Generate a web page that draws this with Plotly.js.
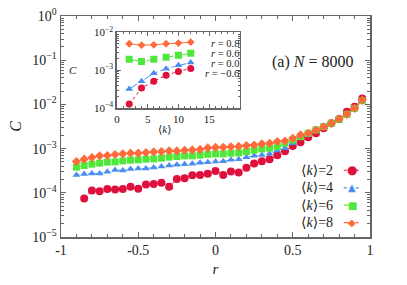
<!DOCTYPE html>
<html><head><meta charset="utf-8">
<script src="https://cdn.plot.ly/plotly-3.0.1.min.js"></script>
<style>html,body{margin:0;padding:0;background:#fff}#c{width:407px;height:285px}</style>
</head><body><div id="c"></div>
<script>
// main panel: C vs r, N = 8000
const rAll = [-0.9,-0.85,-0.8,-0.75,-0.7,-0.65,-0.6,-0.55,-0.5,-0.45,-0.4,-0.35,-0.3,-0.25,-0.2,-0.15,-0.1,-0.05,0,0.05,0.1,0.15,0.2,0.25,0.3,0.35,0.4,0.45,0.5,0.55,0.6,0.65,0.7,0.75,0.8,0.85,0.9,0.95];
const rK2 = rAll.slice(1);
const C_k2 = [7.4e-5,1.13e-4,1.08e-4,1.22e-4,1.19e-4,1.22e-4,1.37e-4,1.24e-4,1.55e-4,1.58e-4,1.69e-4,1.37e-4,2.05e-4,2.13e-4,2.49e-4,2.52e-4,2.69e-4,3.1e-4,2.53e-4,3.03e-4,2.88e-4,3.67e-4,4.59e-4,5.15e-4,5.71e-4,7.03e-4,8.73e-4,1.15e-3,1.39e-3,1.81e-3,2.22e-3,2.88e-3,3.73e-3,4.67e-3,6.81e-3,8.83e-3,1.36e-2];
const C_k4 = [2.52e-4,2.65e-4,2.73e-4,2.73e-4,2.99e-4,3.26e-4,3.2e-4,3.44e-4,3.55e-4,3.55e-4,3.73e-4,3.94e-4,4.14e-4,4.3e-4,4.41e-4,4.52e-4,4.76e-4,4.94e-4,5.09e-4,5.15e-4,5.56e-4,5.77e-4,6.4e-4,6.85e-4,7.21e-4,7.6e-4,9.02e-4,1.02e-3,1.32e-3,1.71e-3,2.04e-3,2.5e-3,3.08e-3,3.7e-3,4.59e-3,6.05e-3,8.13e-3,1.25e-2];
const C_k6 = [3.81e-4,4.14e-4,4.45e-4,4.69e-4,4.94e-4,5.01e-4,5.28e-4,5.48e-4,5.56e-4,5.77e-4,5.86e-4,6.08e-4,6.4e-4,6.61e-4,6.85e-4,6.85e-4,7.1e-4,7.4e-4,7.6e-4,7.6e-4,7.88e-4,8.0e-4,8.56e-4,9.2e-4,9.84e-4,1.02e-3,1.11e-3,1.32e-3,1.57e-3,1.86e-3,2.22e-3,2.64e-3,3.13e-3,3.73e-3,4.59e-3,5.95e-3,8.13e-3,1.21e-2];
const C_k8 = [5.09e-4,5.77e-4,6.27e-4,6.85e-4,6.96e-4,7.33e-4,7.6e-4,7.88e-4,7.88e-4,8.13e-4,8.43e-4,8.56e-4,8.87e-4,8.87e-4,9.2e-4,9.35e-4,9.59e-4,1.04e-3,1.065e-3,1.076e-3,1.10e-3,1.12e-3,1.17e-3,1.21e-3,1.28e-3,1.32e-3,1.45e-3,1.49e-3,1.71e-3,2.04e-3,2.22e-3,2.64e-3,3.13e-3,3.73e-3,4.67e-3,5.95e-3,8.13e-3,1.25e-2];
// inset: C vs <k>
const kVals = [2,4,6,8,10,12];
const Cin_r08 = [5.0e-3,4.6e-3,4.7e-3,5.0e-3,5.2e-3,5.5e-3];
const Cin_r06 = [1.94e-3,1.7e-3,1.94e-3,2.2e-3,2.5e-3,2.8e-3];
const Cin_r00 = [3.2e-4,5.1e-4,8.3e-4,1.1e-3,1.35e-3,1.6e-3];
const Cin_rm06 = [1.28e-4,3.4e-4,5.1e-4,7.4e-4,9.3e-4,1.12e-3];
const legendNames = ['⟨<i>k</i>⟩=2','⟨<i>k</i>⟩=4','⟨<i>k</i>⟩=6','⟨<i>k</i>⟩=8'];
const insetNames = ['<i>r</i> = 0.8','<i>r</i> = 0.6','<i>r</i> = 0.0','<i>r</i> = −0.6'];
const yTickVals = [1,0.1,0.01,0.001,0.0001,0.00001];
const yTickText = ['10<sup>0</sup>','10<sup>−1</sup>','10<sup>−2</sup>','10<sup>−3</sup>','10<sup>−4</sup>','10<sup>−5</sup>'];
const xTickVals = [-1,-0.5,0,0.5,1];
const xTickText = ['-1','-0.5','0','0.5','1'];

function logMinor(lo,hi){const v=[];for(let e=lo;e<hi;e++){for(let m=2;m<=9;m++){v.push(m*Math.pow(10,e));}}return v;}

const RED='#e0103c', BLUE='#4a8ff0', GREEN='#4fe83a', ORANGE='#ff6a3a';
const F='Liberation Serif, DejaVu Serif, serif';
const AX='#666';

function tr(x,y,c,sym,sz,dash,xa,ya){
  return {x:x,y:y,type:'scatter',mode:'lines+markers',xaxis:xa,yaxis:ya,showlegend:false,
    line:{color:c,width:1,dash:dash},marker:{color:c,symbol:sym,size:sz}};
}
const data=[
  tr(rK2,C_k2,RED,'circle',8,'dot','x','y'),
  tr(rAll,C_k4,BLUE,'triangle-up',7,'dot','x','y'),
  tr(rAll,C_k6,GREEN,'square',7,'dash','x','y'),
  tr(rAll,C_k8,ORANGE,'diamond',7,'dashdot','x','y'),
  tr(kVals,Cin_rm06,RED,'circle',7,'dot','x2','y2'),
  tr(kVals,Cin_r00,BLUE,'triangle-up',7,'dashdot','x2','y2'),
  tr(kVals,Cin_r06,GREEN,'square',7,'dash','x2','y2'),
  tr(kVals,Cin_r08,ORANGE,'diamond',6,'solid','x2','y2')
];

const colors=[RED,BLUE,GREEN,ORANGE];
const glyphs=['●','▲','■','◆'];
const dashes=['dot','dot','dash','dashdot'];
const legY=[0.302,0.222,0.144,0.065];
const ann=[
  {text:'(a) <i>N</i> = 8000',xref:'paper',yref:'paper',x:0.95,y:0.79,xanchor:'right',yanchor:'middle',showarrow:false,font:{family:F,size:16,color:'#222'}},
];
const shapes=[];
for(let i=0;i<4;i++){
  ann.push({text:legendNames[i],xref:'paper',yref:'paper',x:0.888,y:legY[i],xanchor:'right',yanchor:'middle',showarrow:false,font:{family:F,size:14,color:'#222'}});
  ann.push({text:glyphs[i],xref:'paper',yref:'paper',x:0.943,y:legY[i],xanchor:'center',yanchor:'middle',showarrow:false,font:{family:'DejaVu Sans',size:i==0?12:10,color:colors[i]}});
  shapes.push({type:'line',xref:'paper',yref:'paper',x0:0.915,x1:0.97,y0:legY[i],y1:legY[i],line:{color:colors[i],width:1.2,dash:dashes[i]}});
}
const inY=[0.874,0.83,0.786,0.742];
for(let i=0;i<4;i++){
  ann.push({text:insetNames[i],xref:'paper',yref:'paper',x:0.583,y:inY[i],xanchor:'right',yanchor:'middle',showarrow:false,font:{family:F,size:10.5,color:'#222'}});
}
ann.push({text:'<i>C</i>',xref:'paper',yref:'paper',x:0.04,y:0.755,xanchor:'center',yanchor:'middle',showarrow:false,font:{family:F,size:11,color:'#222'}});
ann.push({text:'⟨<i>k</i>⟩',xref:'paper',yref:'paper',x:0.335,y:0.49,xanchor:'center',yanchor:'middle',showarrow:false,font:{family:F,size:11,color:'#222'}});

const layout={
  width:407,height:285,margin:{l:61,r:37,t:15.5,b:47.5},
  paper_bgcolor:'#fff',plot_bgcolor:'#fff',
  font:{family:F,color:'#222'},
  xaxis:{range:[-1,1],tickvals:xTickVals,ticktext:xTickText,ticks:'inside',ticklen:5,tickcolor:AX,
    showline:true,linecolor:AX,linewidth:1.5,mirror:'allticks',showgrid:false,zeroline:false,
    tickfont:{family:F,size:14},minor:{dtick:0.1,ticks:'inside',ticklen:3,tickcolor:AX},
    title:{text:'<i>r</i>',font:{family:F,size:15},standoff:6}},
  yaxis:{type:'log',range:[-5,0],tickvals:yTickVals,ticktext:yTickText,ticks:'inside',ticklen:5,tickcolor:AX,
    showline:true,linecolor:AX,linewidth:1.5,mirror:'allticks',showgrid:false,zeroline:false,
    tickfont:{family:F,size:14},minor:{tickvals:logMinor(-5,0),ticks:'inside',ticklen:3,tickcolor:AX},
    title:{text:'<i>C</i>',font:{family:F,size:16},standoff:6}},
  xaxis2:{domain:[0.181,0.579],anchor:'y2',range:[0,20],tickvals:[0,5,10,15],ticks:'inside',ticklen:4,tickcolor:AX,
    showline:true,linecolor:AX,linewidth:1.5,mirror:'allticks',showgrid:false,zeroline:false,
    tickfont:{family:F,size:11},minor:{dtick:1,ticks:'inside',ticklen:2,tickcolor:AX}},
  yaxis2:{domain:[0.583,0.926],anchor:'x2',type:'log',range:[-4,-2],tickvals:[0.01,0.001,0.0001],
    ticktext:['10<sup>−2</sup>','10<sup>−3</sup>','10<sup>−4</sup>'],ticks:'inside',ticklen:4,tickcolor:AX,
    showline:true,linecolor:AX,linewidth:1.5,mirror:'allticks',showgrid:false,zeroline:false,
    tickfont:{family:F,size:11},minor:{tickvals:logMinor(-4,-2),ticks:'inside',ticklen:2,tickcolor:AX}},
  annotations:ann,shapes:shapes
};
Plotly.newPlot('c',data,layout,{staticPlot:true,displayModeBar:false});
</script></body></html>
